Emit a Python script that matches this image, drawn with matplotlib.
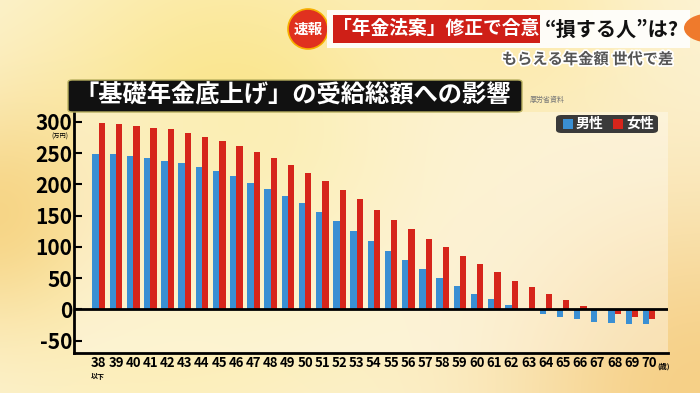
import numpy as np
import matplotlib
matplotlib.use("Agg")
import matplotlib.pyplot as plt
import matplotlib.patheffects as pe
from matplotlib.patches import FancyBboxPatch, Circle, Rectangle

plt.rcParams['font.family'] = ['Noto Sans CJK JP', 'DejaVu Sans']

# data (万円)
ages = ['38', '39', '40', '41', '42', '43', '44', '45', '46', '47', '48',
        '49', '50', '51', '52', '53', '54', '55', '56', '57', '58', '59',
        '60', '61', '62', '63', '64', '65', '66', '67', '68', '69', '70']
male = [248, 248, 245, 242, 238, 234, 228, 221, 213, 203, 193,
        181, 170, 156, 142, 126, 109, 94, 79, 65, 50, 37,
        25, 16, 7, 0, -8, -12, -16, -20, -22, -23, -23]
female = [298, 297, 294, 291, 288, 283, 276, 270, 262, 252, 242,
          231, 218, 206, 191, 176, 159, 143, 128, 113, 99, 85,
          72, 59, 46, 35, 25, 15, 6, 0, -7, -12, -16]
yticks = [-50, 0, 50, 100, 150, 200, 250, 300]

BLUE = '#3a8fd3'
RED = '#d6251b'
W, H = 700, 393


def fx(x):
    return x / W


def fy(y):
    return 1 - y / H


fig = plt.figure(figsize=(7, 3.93), dpi=100)

# soft yellow background
bg = fig.add_axes([0, 0, 1, 1], zorder=0)
yy, xx = np.mgrid[0:H, 0:W]
base = np.array([0.99, 0.96, 0.85])
img = np.ones((H, W, 3)) * base


def blob(cx, cy, r, col, strength):
    global img
    d = np.exp(-((xx - cx) ** 2 + (yy - cy) ** 2) / (2 * r ** 2)) * strength
    img = img * (1 - d[..., None]) + np.array(col) * d[..., None]


blob(230, 130, 150, [0.98, 0.88, 0.45], 0.75)
blob(0, 220, 80, [0.96, 0.80, 0.45], 0.8)
blob(700, 393, 150, [0.96, 0.78, 0.45], 0.8)
blob(520, 10, 90, [0.99, 0.90, 0.60], 0.6)
blob(150, 380, 120, [0.99, 0.93, 0.70], 0.5)
bg.imshow(np.clip(img, 0, 1), aspect='auto', extent=[0, W, H, 0])
bg.set_xlim(0, W)
bg.set_ylim(H, 0)
bg.axis('off')

ax = fig.add_axes([fx(74), fy(353), (668 - 74) / W, (353 - 112) / H], zorder=2)
ax.set_facecolor((1, 1, 1, 0.35))

x = np.arange(len(ages))
bw = 0.37
ax.bar(x - bw / 2, male, bw, color=BLUE, zorder=2)
ax.bar(x + bw / 2, female, bw, color=RED, zorder=2)
ax.axhline(0, color='black', lw=2, zorder=3)

ax.set_xlim(-1.44, 33.1)
ax.set_ylim(-70, 316)
for s in ['top', 'right']:
    ax.spines[s].set_visible(False)
for s in ['left', 'bottom']:
    ax.spines[s].set_linewidth(2)
    ax.spines[s].set_color('black')

ax.set_yticks(yticks)
ax.set_yticklabels([str(v) for v in yticks], fontsize=15, fontweight='bold')
ax.tick_params(axis='y', direction='in', length=6, width=1.5, pad=1.5)
ax.set_xticks(x)
ax.set_xticklabels(ages, fontsize=9.5, fontweight='bold')
ax.tick_params(axis='x', length=0, pad=2.5)

fig.text(fx(60), fy(137), '(万円)', fontsize=4.5, ha='center', va='center', zorder=5)
fig.text(fx(98), fy(376), '以下', fontsize=5, fontweight='bold', ha='center', va='center', zorder=5)
fig.text(fx(657), fy(366), '(歳)', fontsize=5, fontweight='bold', ha='left', va='center', zorder=5)

# chart title box
fig.patches.append(FancyBboxPatch((fx(68), fy(112)), fx(522) - fx(68), fy(80) - fy(112),
                                  boxstyle='round,pad=0,rounding_size=0.006',
                                  transform=fig.transFigure, facecolor='#111111',
                                  edgecolor='#b8b060', lw=1, zorder=3))
fig.text(fx(293), fy(96), '「基礎年金底上げ」の受給総額への影響', fontsize=17.5,
         fontweight='bold', color='white', ha='center', va='center', zorder=4)
fig.text(fx(530), fy(100), '厚労省資料', fontsize=5, color='#777777', ha='left', va='center', zorder=4)

# legend
fig.patches.append(FancyBboxPatch((fx(556), fy(133)), fx(658) - fx(556), fy(115) - fy(133),
                                  boxstyle='round,pad=0,rounding_size=0.008',
                                  transform=fig.transFigure, facecolor='#3a3a3a',
                                  edgecolor='none', zorder=3))
fig.patches.append(Rectangle((fx(563), fy(129)), fx(10), fx(10) * W / H, transform=fig.transFigure,
                             facecolor=BLUE, edgecolor='none', zorder=4))
fig.text(fx(576), fy(124), '男性', fontsize=10, fontweight='bold', color='white', ha='left', va='center', zorder=4)
fig.patches.append(Rectangle((fx(613), fy(129)), fx(10), fx(10) * W / H, transform=fig.transFigure,
                             facecolor=RED, edgecolor='none', zorder=4))
fig.text(fx(626), fy(124), '女性', fontsize=10, fontweight='bold', color='white', ha='left', va='center', zorder=4)

# headline banner
fig.patches.append(Rectangle((fx(327), fy(48)), fx(690) - fx(327), fy(10) - fy(48),
                             transform=fig.transFigure, facecolor='white', alpha=0.9,
                             edgecolor='none', zorder=3))
fig.patches.append(Rectangle((fx(333), fy(43)), fx(540) - fx(333), fy(15) - fy(43),
                             transform=fig.transFigure, facecolor='#cf1f17',
                             edgecolor='none', zorder=4))
fig.patches.append(Circle((fx(710), fy(28)), fx(26), transform=fig.transFigure,
                          facecolor='#ef7a2c', edgecolor='none', zorder=4))
bg.add_patch(Circle((308, 29), 20, facecolor='#e0311f', edgecolor='#f6b000', lw=1.2, zorder=5))
fig.text(fx(308), fy(29), '速報', fontsize=10.5, fontweight='bold', color='white',
         ha='center', va='center', zorder=6)
fig.text(fx(436), fy(29), '「年金法案」修正で合意', fontsize=13.5, fontweight='bold',
         color='white', ha='center', va='center', zorder=6)
fig.text(fx(612), fy(29), '“損する人”は?', fontsize=14.5, fontweight='bold',
         color='#111111', ha='center', va='center', zorder=6)
fig.text(fx(673), fy(59), 'もらえる年金額 世代で差', fontsize=11, fontweight='bold',
         color='#555555', ha='right', va='center', zorder=6,
         path_effects=[pe.withStroke(linewidth=2.5, foreground='white')])

fig.savefig('out.png', dpi=100)
